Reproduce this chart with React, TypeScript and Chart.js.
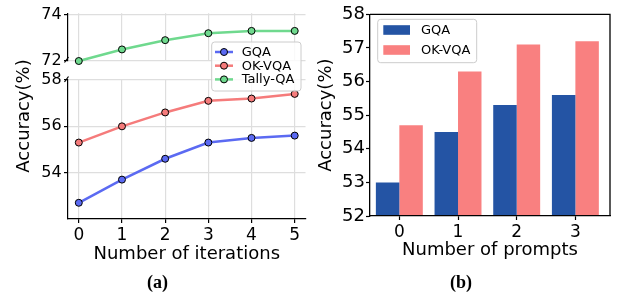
import React, { useEffect, useRef } from 'react';
import { Chart, registerables } from 'chart.js';

Chart.register(...registerables);

const FONT = 'DejaVu Sans';

// ---------- (a) accuracy vs. number of iterations ----------
const iterations = [0, 1, 2, 3, 4, 5];
const gqaByIteration = [52.7, 53.7, 54.6, 55.3, 55.5, 55.6];
const okvqaByIteration = [55.3, 56.0, 56.6, 57.1, 57.2, 57.4];
const tallyByIteration = [72.0, 72.5, 72.9, 73.2, 73.3, 73.3];
const upperTicks = [72, 74];
const lowerTicks = [54, 56, 58];
const namesA = ['GQA', 'OK-VQA', 'Tally-QA'];
const colorsA = ['#5b6af2', '#f57b7b', '#6fd98e'];

// ---------- (b) accuracy vs. number of prompts ----------
const prompts = [0, 1, 2, 3];
const gqaByPrompt = [53.0, 54.5, 55.3, 55.6];
const okvqaByPrompt = [54.7, 56.3, 57.1, 57.2];
const promptTicks = [52, 53, 54, 55, 56, 57, 58];
const namesB = ['GQA', 'OK-VQA'];
const colorsB = ['#2454a4', '#f98080'];

const GRID = '#dedede';
const INK = '#000000';

const fixedTicks = (vals: number[]) => (s: any) => {
  s.ticks = vals.map((v) => ({ value: v }));
};

const lineDataset = (i: number, values: number[]) => ({
  label: namesA[i],
  data: iterations.map((x, k) => ({ x, y: values[k] })),
  borderColor: colorsA[i],
  backgroundColor: colorsA[i],
  borderWidth: 2.5,
  pointRadius: 3.5,
  pointHoverRadius: 3.5,
  pointBackgroundColor: colorsA[i],
  pointBorderColor: INK,
  pointBorderWidth: 1,
  tension: 0,
  clip: false as any,
});

function roundRect(ctx: CanvasRenderingContext2D, x: number, y: number, w: number, h: number, r: number) {
  ctx.beginPath();
  ctx.moveTo(x + r, y);
  ctx.lineTo(x + w - r, y);
  ctx.arcTo(x + w, y, x + w, y + r, r);
  ctx.lineTo(x + w, y + h - r);
  ctx.arcTo(x + w, y + h, x + w - r, y + h, r);
  ctx.lineTo(x + r, y + h);
  ctx.arcTo(x, y + h, x, y + h - r, r);
  ctx.lineTo(x, y + r);
  ctx.arcTo(x, y, x + r, y, r);
  ctx.closePath();
}

const decorA = {
  id: 'decorA',
  afterDraw(chart: any) {
    const ctx: CanvasRenderingContext2D = chart.ctx;
    // shared y-axis title
    ctx.save();
    ctx.font = `18px "${FONT}"`;
    ctx.fillStyle = INK;
    ctx.textAlign = 'center';
    ctx.textBaseline = 'middle';
    ctx.translate(24, 116);
    ctx.rotate(-Math.PI / 2);
    ctx.fillText('Accuracy(%)', 0, 0);
    ctx.restore();

    // axis-break marks
    ctx.save();
    ctx.strokeStyle = INK;
    ctx.lineWidth = 1.2;
    ctx.beginPath();
    ctx.moveTo(64.5, 62.5);
    ctx.lineTo(68.5, 57);
    ctx.moveTo(64.5, 82);
    ctx.lineTo(68.5, 76.5);
    ctx.stroke();
    ctx.restore();

    // legend
    ctx.save();
    roundRect(ctx, 211.7, 42, 89.3, 49, 3);
    ctx.fillStyle = 'rgba(255,255,255,0.8)';
    ctx.fill();
    ctx.strokeStyle = '#cccccc';
    ctx.lineWidth = 1;
    ctx.stroke();
    ctx.font = `13px "${FONT}"`;
    ctx.textAlign = 'left';
    ctx.textBaseline = 'middle';
    namesA.forEach((name, i) => {
      const y = 52 + i * 13.7;
      ctx.strokeStyle = colorsA[i];
      ctx.lineWidth = 2.5;
      ctx.beginPath();
      ctx.moveTo(215, y);
      ctx.lineTo(233, y);
      ctx.stroke();
      ctx.beginPath();
      ctx.arc(224, y, 3.5, 0, Math.PI * 2);
      ctx.fillStyle = colorsA[i];
      ctx.fill();
      ctx.strokeStyle = INK;
      ctx.lineWidth = 1;
      ctx.stroke();
      ctx.fillStyle = INK;
      ctx.fillText(name, 241.7, y + 0.5);
    });
    ctx.restore();
  },
};

const decorB = {
  id: 'decorB',
  afterDraw(chart: any) {
    const ctx: CanvasRenderingContext2D = chart.ctx;
    const a = chart.chartArea;
    ctx.save();
    ctx.strokeStyle = INK;
    ctx.lineWidth = 1.3;
    ctx.beginPath();
    ctx.moveTo(a.left, a.top);
    ctx.lineTo(a.right, a.top);
    ctx.lineTo(a.right, a.bottom);
    ctx.stroke();
    ctx.restore();

    ctx.save();
    roundRect(ctx, 67.7, 19.3, 99, 43.4, 3);
    ctx.fillStyle = 'rgba(255,255,255,0.8)';
    ctx.fill();
    ctx.strokeStyle = '#cccccc';
    ctx.lineWidth = 1;
    ctx.stroke();
    ctx.font = `13px "${FONT}"`;
    ctx.textAlign = 'left';
    ctx.textBaseline = 'middle';
    namesB.forEach((name, i) => {
      const y = 30 + i * 20;
      ctx.fillStyle = colorsB[i];
      ctx.fillRect(73.3, y - 4.8, 26.7, 9.6);
      ctx.fillStyle = INK;
      ctx.fillText(name, 111, y + 0.5);
    });
    ctx.restore();
  },
};

const tickFont = (size: number) => ({ family: FONT, size });

function makeUpper(c: HTMLCanvasElement) {
  return new Chart(c, {
    type: 'line',
    data: { datasets: [lineDataset(2, tallyByIteration)] },
    options: {
      responsive: false,
      animation: false,
      layout: { padding: { left: 0, top: 13.3, right: 2.4, bottom: 236 } },
      plugins: { legend: { display: false }, tooltip: { enabled: false } },
      scales: {
        x: {
          type: 'linear',
          min: -0.25,
          max: 5.25,
          afterBuildTicks: fixedTicks(iterations),
          ticks: { display: false },
          grid: { color: GRID, lineWidth: 1.2, drawTicks: false },
          border: { display: false },
          afterFit: (s: any) => { s.height = 0; },
        },
        y: {
          type: 'linear',
          min: 72,
          max: 74.06,
          afterBuildTicks: fixedTicks(upperTicks),
          ticks: { font: tickFont(16), color: INK, padding: 2.3 },
          grid: { color: GRID, lineWidth: 1.2, tickColor: INK, tickLength: 4, tickWidth: 1.2 },
          border: { color: INK, width: 1.2 },
          afterFit: (s: any) => { s.width = 68; },
        },
      },
    } as any,
  });
}

function makeLower(c: HTMLCanvasElement) {
  return new Chart(c, {
    type: 'line',
    data: { datasets: [lineDataset(0, gqaByIteration), lineDataset(1, okvqaByIteration)] },
    options: {
      responsive: false,
      animation: false,
      layout: { padding: { left: 0, top: 80, right: 2.4, bottom: 0 } },
      plugins: { legend: { display: false }, tooltip: { enabled: false } },
      scales: {
        x: {
          type: 'linear',
          min: -0.25,
          max: 5.25,
          afterBuildTicks: fixedTicks(iterations),
          ticks: { font: tickFont(17), color: INK, padding: 2 },
          grid: { color: GRID, lineWidth: 1.2, tickColor: INK, tickLength: 4, tickWidth: 1.2 },
          border: { color: INK, width: 1.2 },
          title: { display: true, text: 'Number of iterations', color: INK, font: { family: FONT, size: 18 }, padding: { top: 0, bottom: 32 } },
          afterFit: (s: any) => { s.height = 78; },
        },
        y: {
          type: 'linear',
          min: 52,
          max: 58,
          afterBuildTicks: fixedTicks(lowerTicks),
          ticks: { font: tickFont(16), color: INK, padding: 2.3 },
          grid: { color: GRID, lineWidth: 1.2, tickColor: INK, tickLength: 4, tickWidth: 1.2 },
          border: { color: INK, width: 1.2 },
          afterFit: (s: any) => { s.width = 68; },
        },
      },
    } as any,
    plugins: [decorA],
  });
}

function makeBars(c: HTMLCanvasElement) {
  const ds = (i: number, values: number[]) => ({
    label: namesB[i],
    data: prompts.map((x, k) => ({ x, y: values[k] })),
    backgroundColor: colorsB[i],
    borderWidth: 0,
    base: 52,
    categoryPercentage: 0.8,
    barPercentage: 1.0,
    clip: 0,
  });
  return new Chart(c, {
    type: 'bar',
    data: { datasets: [ds(0, gqaByPrompt), ds(1, okvqaByPrompt)] },
    options: {
      responsive: false,
      animation: false,
      layout: { padding: { left: 0, top: 14.3, right: 10, bottom: 0 } },
      plugins: { legend: { display: false }, tooltip: { enabled: false } },
      scales: {
        x: {
          type: 'linear',
          min: -0.5,
          max: 3.59,
          offset: false,
          afterBuildTicks: fixedTicks(prompts),
          ticks: { font: tickFont(17), color: INK, padding: 2 },
          grid: { offset: false, drawOnChartArea: false, tickColor: INK, tickLength: 4, tickWidth: 1.2 },
          border: { color: INK, width: 1.3, z: 1 },
          title: { display: true, text: 'Number of prompts', color: INK, font: { family: FONT, size: 18 }, padding: { top: 0, bottom: 35.5 } },
          afterFit: (s: any) => { s.height = 81; },
        },
        y: {
          type: 'linear',
          min: 52,
          max: 58,
          beginAtZero: false,
          afterBuildTicks: fixedTicks(promptTicks),
          ticks: { font: tickFont(18), color: INK, padding: 1 },
          grid: { drawOnChartArea: false, tickColor: INK, tickLength: 4, tickWidth: 1.2 },
          border: { color: INK, width: 1.3, z: 1 },
          title: { display: true, text: 'Accuracy(%)', color: INK, font: { family: FONT, size: 18 }, padding: { top: 5.2, bottom: 0 } },
          afterFit: (s: any) => { s.width = 60; },
        },
      },
    } as any,
    plugins: [decorB],
  });
}

function ChartCanvas({ make, left }: { make: (c: HTMLCanvasElement) => Chart; left: number }) {
  const ref = useRef<HTMLCanvasElement>(null);
  useEffect(() => {
    const chart = make(ref.current as HTMLCanvasElement);
    return () => chart.destroy();
  }, [make]);
  return (
    <canvas
      ref={ref}
      width={310}
      height={297}
      style={{ position: 'absolute', left, top: 0, width: 310, height: 297 }}
    />
  );
}

const captionStyle = (cx: number): React.CSSProperties => ({
  position: 'absolute',
  left: cx - 50,
  width: 100,
  top: 272,
  height: 20,
  lineHeight: '20px',
  textAlign: 'center',
  fontFamily: '"Liberation Serif", serif',
  fontWeight: 'bold',
  fontSize: 18,
  color: '#000',
});

export default function App() {
  return (
    <div style={{ position: 'fixed', left: 0, top: 0, width: 620, height: 297, background: '#ffffff', overflow: 'hidden' }}>
      <ChartCanvas make={makeUpper} left={0} />
      <ChartCanvas make={makeLower} left={0} />
      <ChartCanvas make={makeBars} left={310} />
      <div style={captionStyle(157.5)}>(a)</div>
      <div style={captionStyle(461)}>(b)</div>
    </div>
  );
}
